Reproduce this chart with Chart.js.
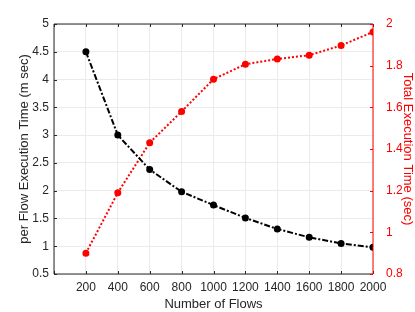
<!DOCTYPE html>
<html lang="en">
<head>
    <meta charset="UTF-8">
    <title>Flows chart</title>
    <script src="https://cdn.jsdelivr.net/npm/chart.js"></script>
    <style>
        body { margin: 0; background: #fff; }
        #wrap { width: 415px; height: 312px; position: relative; }
    </style>
</head>
<body>
    <div id="wrap"><canvas id="myChart"></canvas></div>
    <script>
        const flows = [200, 400, 600, 800, 1000, 1200, 1400, 1600, 1800, 2000];
        const perFlowTime = [4.5, 3.0, 2.38, 1.98, 1.74, 1.51, 1.31, 1.16, 1.05, 0.98];
        const totalTime = [0.90, 1.19, 1.43, 1.58, 1.735, 1.807, 1.832, 1.85, 1.897, 1.962];

        const font = { family: 'Liberation Sans', size: 12 };
        const fmt = v => String(+v.toFixed(1));

        // inward tick marks + box, like the original plot
        const boxPlugin = {
            id: 'box',
            afterDraw(chart) {
                const { ctx, chartArea: a, scales } = chart;
                ctx.save();
                ctx.lineWidth = 1;
                ctx.strokeStyle = '#262626';
                ctx.beginPath();
                ctx.moveTo(a.left, a.bottom); ctx.lineTo(a.left, a.top); ctx.lineTo(a.right, a.top);
                ctx.moveTo(a.left, a.bottom); ctx.lineTo(a.right, a.bottom);
                scales.x.ticks.forEach(t => {
                    const px = Math.round(scales.x.getPixelForValue(t.value)) + 0.5;
                    ctx.moveTo(px, a.bottom); ctx.lineTo(px, a.bottom - 3);
                    ctx.moveTo(px, a.top); ctx.lineTo(px, a.top + 3);
                });
                scales.y.ticks.forEach(t => {
                    const py = Math.round(scales.y.getPixelForValue(t.value)) + 0.5;
                    ctx.moveTo(a.left, py); ctx.lineTo(a.left + 3, py);
                });
                ctx.stroke();
                ctx.strokeStyle = '#ff0000';
                ctx.beginPath();
                ctx.moveTo(a.right, a.top); ctx.lineTo(a.right, a.bottom);
                scales.y2.ticks.forEach(t => {
                    const py = Math.round(scales.y2.getPixelForValue(t.value)) + 0.5;
                    ctx.moveTo(a.right, py); ctx.lineTo(a.right - 3, py);
                });
                ctx.stroke();
                ctx.restore();
            }
        };

        const ctx = document.getElementById('myChart').getContext('2d');
        const myChart = new Chart(ctx, {
            type: 'line',
            data: {
                datasets: [{
                    label: 'per Flow',
                    data: flows.map((f, i) => ({ x: f, y: perFlowTime[i] })),
                    borderColor: '#000000',
                    backgroundColor: '#000000',
                    borderWidth: 2,
                    borderDash: [6, 2, 2, 2],
                    pointRadius: 2.5,
                    yAxisID: 'y'
                }, {
                    label: 'Total',
                    data: flows.map((f, i) => ({ x: f, y: totalTime[i] })),
                    borderColor: '#ff0000',
                    backgroundColor: '#ff0000',
                    borderWidth: 2,
                    borderDash: [2, 2],
                    pointRadius: 2.5,
                    yAxisID: 'y2'
                }]
            },
            options: {
                responsive: true,
                maintainAspectRatio: false,
                animation: false,
                layout: { padding: { top: 24, left: 0, right: 0, bottom: 0 } },
                plugins: { legend: { display: false }, tooltip: { enabled: false } },
                scales: {
                    x: {
                        type: 'linear', min: 0, max: 2000,
                        ticks: { stepSize: 200, color: '#262626', font, padding: 6,
                            maxRotation: 0, minRotation: 0, autoSkip: false,
                            callback: v => v === 0 ? '' : String(v) },
                        grid: { color: '#ebebeb', drawTicks: false },
                        border: { display: false },
                        title: { display: true, text: 'Number of Flows', color: '#262626',
                            font: { family: 'Liberation Sans', size: 13 }, padding: { top: 2, bottom: 0 } },
                        afterFit: s => { s.height = 38; }
                    },
                    y: {
                        type: 'linear', position: 'left', min: 0.5, max: 5,
                        ticks: { stepSize: 0.5, color: '#262626', font, padding: 5, callback: fmt },
                        grid: { color: '#ebebeb', drawTicks: false },
                        border: { display: false },
                        title: { display: true, text: 'per Flow Execution Time (m sec)', color: '#262626',
                            font: { family: 'Liberation Sans', size: 13 }, padding: { top: 17, bottom: 0 } },
                        afterFit: s => { s.width = 54; }
                    },
                    y2: {
                        type: 'linear', position: 'right', min: 0.8, max: 2,
                        ticks: { stepSize: 0.2, color: '#ff0000', font, padding: 5, callback: fmt },
                        grid: { display: false },
                        border: { display: false },
                        title: { display: true, text: 'Total Execution Time (sec)', color: '#ff0000',
                            font: { family: 'Liberation Sans', size: 13 }, padding: { top: 0, bottom: 0 } },
                        afterFit: s => { s.width = 42; }
                    }
                }
            },
            plugins: [boxPlugin]
        });
    </script>
</body>
</html>
